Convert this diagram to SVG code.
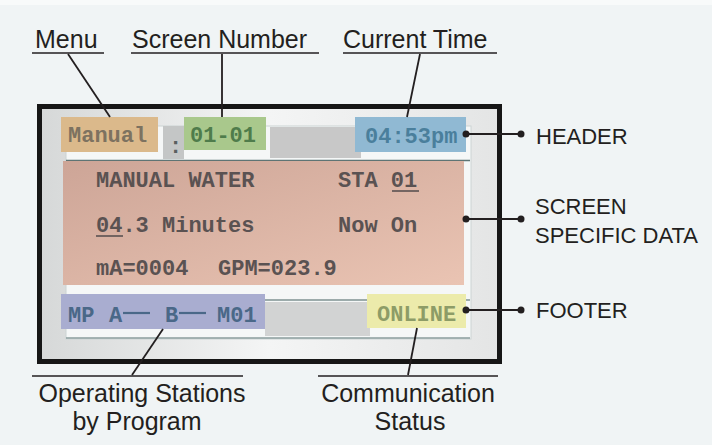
<svg xmlns="http://www.w3.org/2000/svg" width="712" height="445" viewBox="0 0 712 445">
<defs>
<linearGradient id="frameFill" x1="0" y1="0" x2="1" y2="0">
<stop offset="0" stop-color="#d6d8d8"/>
<stop offset="0.5" stop-color="#f4f5f5"/>
<stop offset="1" stop-color="#e4e5e5"/>
</linearGradient>
<linearGradient id="pinkFill" x1="0" y1="0" x2="1" y2="1">
<stop offset="0" stop-color="#cda597"/>
<stop offset="1" stop-color="#eac4b3"/>
</linearGradient>
<style>
.lbl{font-family:"Liberation Sans",Arial,sans-serif;font-size:25px;fill:#231f20}
.side{font-family:"Liberation Sans",Arial,sans-serif;font-size:22px;fill:#231f20}
.lcd{font-family:"Liberation Mono","DejaVu Sans Mono",monospace;font-size:22px;font-weight:bold}
.ln{stroke:#231f20;stroke-width:1.8;fill:none}
.ul{stroke:#231f20;stroke-width:1.6;fill:none}
.dot{fill:#231f20}
</style>
</defs>
<rect x="0" y="0" width="712" height="445" fill="#f0f4f5"/>
<rect x="0" y="0" width="712" height="5" fill="#f8fafa"/>

<g id="screen">
<rect x="39.5" y="106.5" width="460" height="255" fill="url(#frameFill)" stroke="#161616" stroke-width="5"/>
<rect x="66" y="126" width="405" height="213" fill="#f5f7f7" stroke="#ccd4d4" stroke-width="1"/>
<rect x="163" y="126" width="21" height="33" fill="#c4c6c6"/>
<rect x="270" y="127" width="91" height="31" fill="#c8c8c8"/>
<line x1="66" y1="160.5" x2="470" y2="160.5" stroke="#5e7474" stroke-width="1.5"/>
<line x1="66" y1="300" x2="470" y2="300" stroke="#7e9292" stroke-width="1.5"/>
<rect x="265" y="302" width="105" height="34" fill="#d2d3d3"/>
<line x1="66" y1="338" x2="470" y2="338" stroke="#8a9c9c" stroke-width="1.5"/>
<text x="169" y="153" class="lcd" fill="#5a6060" font-size="18">:</text>
</g>

<g id="menu-box">
<rect x="61" y="117" width="97" height="35" fill="#dbb98b"/>
<text x="68" y="142" class="lcd" fill="#7d7260">Manual</text>
</g>
<g id="screen-number-box">
<rect x="184" y="117" width="82" height="33" fill="#a9c88c"/>
<text x="190" y="142" class="lcd" fill="#4f7c4b">01-01</text>
</g>
<g id="time-box">
<rect x="355" y="117" width="111" height="35" fill="#90b9d3"/>
<text x="365" y="143" class="lcd" fill="#4a7f9c">04:53pm</text>
</g>

<g id="data-area">
<rect x="63" y="161" width="401" height="124" fill="url(#pinkFill)"/>
<g class="lcd" fill="#5a5252">
<text x="96" y="187">MANUAL WATER</text>
<text x="338" y="187">STA 01</text>
<text x="96" y="232">04.3 Minutes</text>
<text x="338" y="232">Now On</text>
<text y="275"><tspan x="96">mA=0004</tspan><tspan x="218">GPM=023.9</tspan></text>
</g>
<line x1="392" y1="191" x2="419" y2="191" stroke="#5a5252" stroke-width="1.6"/>
<line x1="96" y1="236" x2="123" y2="236" stroke="#5a5252" stroke-width="1.6"/>
</g>

<g id="stations-box">
<rect x="61" y="294" width="204" height="35" fill="#a9add0"/>
<text y="322" class="lcd" fill="#4a6888"><tspan x="68">MP</tspan><tspan x="109">A</tspan><tspan x="165">B</tspan><tspan x="217">M01</tspan></text>
<line x1="123" y1="313" x2="150" y2="313" stroke="#4a6888" stroke-width="2.2"/>
<line x1="179" y1="313" x2="206" y2="313" stroke="#4a6888" stroke-width="2.2"/>
</g>
<g id="status-box">
<rect x="367" y="294" width="99" height="34" fill="#ecebab"/>
<text x="377" y="321" class="lcd" fill="#8d9c67">ONLINE</text>
</g>

<g id="label-menu"><text x="35" y="48" class="lbl">Menu</text></g>
<g id="label-screen-number"><text x="132" y="48" class="lbl">Screen Number</text></g>
<g id="label-current-time"><text x="343" y="48" class="lbl">Current Time</text></g>
<g id="label-header"><text x="536" y="144" class="side">HEADER</text></g>
<g id="label-data"><text x="535" y="214" class="side">SCREEN</text><text x="535" y="243" class="side">SPECIFIC DATA</text></g>
<g id="label-footer"><text x="536" y="318" class="side">FOOTER</text></g>
<g id="label-stations"><text x="142" y="402" class="lbl" text-anchor="middle">Operating Stations</text><text x="137" y="430" class="lbl" text-anchor="middle">by Program</text></g>
<g id="label-status"><text x="408" y="402" class="lbl" text-anchor="middle">Communication</text><text x="410" y="430" class="lbl" text-anchor="middle">Status</text></g>

<g id="connectors">
<line class="ul" x1="32" y1="53" x2="104" y2="53"/>
<line class="ln" x1="68" y1="54" x2="110" y2="117"/>
<line class="ul" x1="131" y1="53" x2="319" y2="53"/>
<line class="ln" x1="222" y1="54" x2="222" y2="117"/>
<line class="ul" x1="343" y1="53" x2="497" y2="53"/>
<line class="ln" x1="420" y1="54" x2="407" y2="117"/>
<line class="ln" x1="466" y1="134" x2="521" y2="134"/>
<circle class="dot" cx="466" cy="134" r="3.5"/><circle class="dot" cx="521" cy="134" r="3.5"/>
<line class="ln" x1="466" y1="219" x2="521" y2="219"/>
<circle class="dot" cx="466" cy="219" r="3.5"/><circle class="dot" cx="521" cy="219" r="3.5"/>
<line class="ln" x1="466" y1="310" x2="521" y2="310"/>
<circle class="dot" cx="466" cy="310" r="3.5"/><circle class="dot" cx="521" cy="310" r="3.5"/>
<line class="ln" x1="163" y1="329" x2="132" y2="375"/>
<line class="ul" x1="32" y1="376" x2="243" y2="376"/>
<line class="ln" x1="417" y1="328" x2="408" y2="375"/>
<line class="ul" x1="318" y1="376" x2="498" y2="376"/>
</g>
</svg>
